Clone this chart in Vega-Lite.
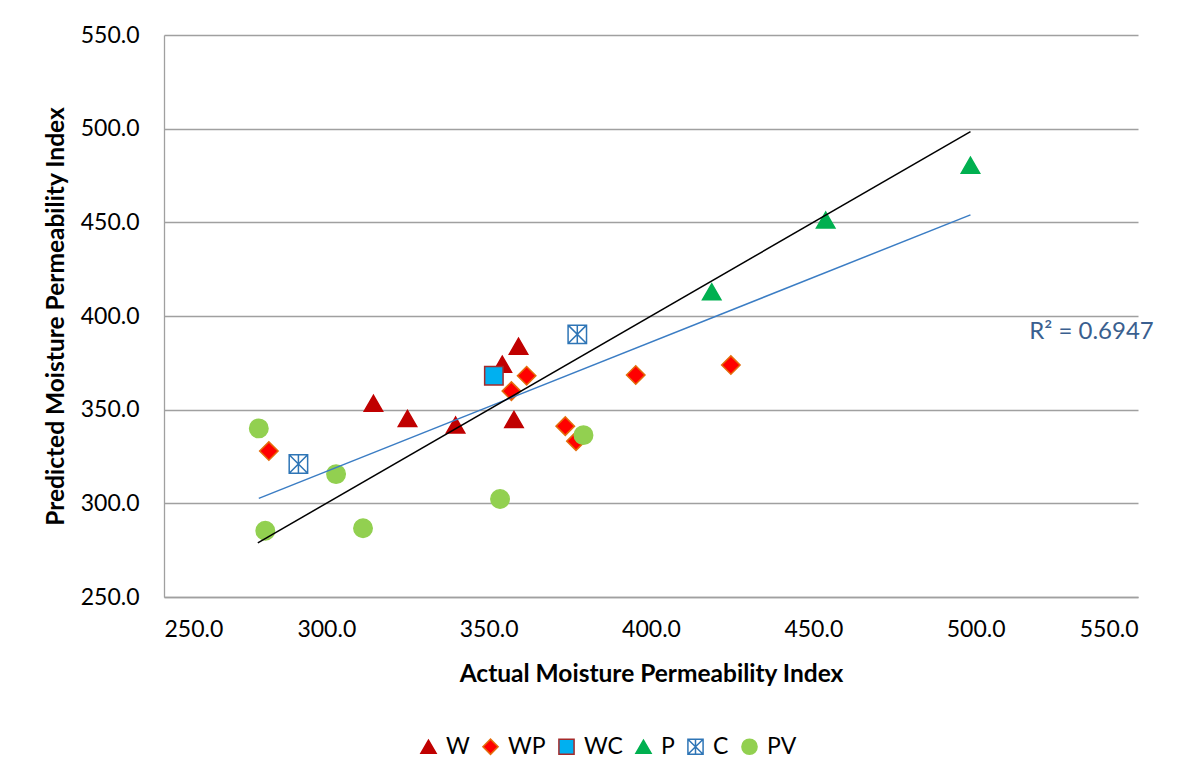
{
  "$schema": "https://vega.github.io/schema/vega-lite/v6.json",
  "autosize": "none",
  "width": 974,
  "height": 562,
  "padding": {"left": 164, "top": 35, "right": 60, "bottom": 183},
  "background": "white",
  "config": {
    "font": "Lato",
    "view": {"stroke": null},
    "axis": {
      "labelFont": "Lato",
      "labelFontSize": 23,
      "labelColor": "#000000",
      "titleFont": "Lato",
      "titleFontSize": 24.5,
      "titleFontWeight": "bold",
      "titleColor": "#000000",
      "domainColor": "#A0A0A0",
      "domainWidth": 1.3,
      "ticks": false,
      "gridColor": "#A0A0A0",
      "gridWidth": 1.3
    },
    "legend": {
      "labelFont": "Lato",
      "labelFontSize": 23,
      "labelColor": "#000000",
      "symbolSize": 230,
      "symbolStrokeWidth": 1.5
    }
  },
  "datasets": {
    "points": [
      {"series": "W", "actual": 314.5, "predicted": 353.4},
      {"series": "W", "actual": 325.0, "predicted": 345.3},
      {"series": "W", "actual": 339.8, "predicted": 341.8},
      {"series": "W", "actual": 357.8, "predicted": 344.8},
      {"series": "W", "actual": 359.2, "predicted": 383.9},
      {"series": "W", "actual": 354.2, "predicted": 374.3},
      {"series": "WP", "actual": 282.3, "predicted": 327.9},
      {"series": "WP", "actual": 357.0, "predicted": 359.9},
      {"series": "WP", "actual": 361.7, "predicted": 368.1},
      {"series": "WP", "actual": 373.6, "predicted": 341.2},
      {"series": "WP", "actual": 376.9, "predicted": 333.2},
      {"series": "WP", "actual": 395.3, "predicted": 368.5},
      {"series": "WP", "actual": 424.6, "predicted": 373.8},
      {"series": "WC", "actual": 351.6, "predicted": 368.1},
      {"series": "P", "actual": 418.7, "predicted": 412.9},
      {"series": "P", "actual": 453.8, "predicted": 451.2},
      {"series": "P", "actual": 498.4, "predicted": 480.5},
      {"series": "C", "actual": 291.4, "predicted": 321.0},
      {"series": "C", "actual": 377.3, "predicted": 390.2},
      {"series": "PV", "actual": 279.2, "predicted": 340.0},
      {"series": "PV", "actual": 281.2, "predicted": 285.4},
      {"series": "PV", "actual": 303.0, "predicted": 315.6},
      {"series": "PV", "actual": 311.3, "predicted": 286.7},
      {"series": "PV", "actual": 353.5, "predicted": 302.3},
      {"series": "PV", "actual": 379.2, "predicted": 336.4}
    ],
    "oneToOne": [
      {"actual": 278.9, "predicted": 278.9},
      {"actual": 498.4, "predicted": 498.4}
    ],
    "labels": [
      {"actual": 516.5, "predicted": 391.5, "text": "R² = 0.6947"}
    ]
  },
  "encoding": {
    "x": {
      "field": "actual", "type": "quantitative",
      "scale": {"domain": [250, 550], "nice": false, "zero": false},
      "axis": {"values": [250, 300, 350, 400, 450, 500, 550], "format": ".1f", "grid": false, "labelPadding": 21, "titlePadding": 21, "title": "Actual Moisture Permeability Index"}
    },
    "y": {
      "field": "predicted", "type": "quantitative",
      "scale": {"domain": [250, 550], "nice": false, "zero": false},
      "axis": {"values": [250, 300, 350, 400, 450, 500, 550], "format": ".1f", "grid": true, "labelPadding": 25, "titlePadding": 12, "title": "Predicted Moisture Permeability Index"}
    }
  },
  "layer": [
    {
      "data": {"name": "points"},
      "mark": {"type": "point", "filled": true, "size": 340, "opacity": 1, "strokeWidth": 1.5},
      "encoding": {
        "shape": {
          "field": "series", "type": "nominal",
          "scale": {"domain": ["W", "WP", "WC", "P", "C", "PV"], "range": ["triangle-up", "diamond", "square", "triangle-up", "M-1,-1H1V1H-1Z M-1,-1L1,1 M1,-1L-1,1 M0,-1V1", "circle"]},
          "legend": {"title": null, "orient": "none", "direction": "horizontal", "legendX": 253, "legendY": 700, "columnPadding": 9, "labelOffset": 6}
        },
        "fill": {
          "field": "series", "type": "nominal",
          "scale": {"domain": ["W", "WP", "WC", "P", "C", "PV"], "range": ["#C00000", "#FF0000", "#00B0F0", "#00B050", "#FFFFFF", "#92D050"]},
          "legend": {"title": null, "orient": "none", "direction": "horizontal", "legendX": 253, "legendY": 700, "columnPadding": 9, "labelOffset": 6}
        },
        "stroke": {
          "field": "series", "type": "nominal",
          "scale": {"domain": ["W", "WP", "WC", "P", "C", "PV"], "range": ["#C00000", "#E46C0A", "#A52A2A", "#00B050", "#2E75B6", "#92D050"]},
          "legend": {"title": null, "orient": "none", "direction": "horizontal", "legendX": 253, "legendY": 700, "columnPadding": 9, "labelOffset": 6}
        }
      }
    },
    {
      "data": {"name": "points"},
      "transform": [{"regression": "predicted", "on": "actual"}],
      "mark": {"type": "line", "color": "#3B7DC4", "strokeWidth": 1.5},
      "encoding": {}
    },
    {
      "data": {"name": "oneToOne"},
      "mark": {"type": "line", "color": "#000000", "strokeWidth": 1.5},
      "encoding": {}
    },
    {
      "data": {"name": "labels"},
      "mark": {"type": "text", "align": "left", "baseline": "middle", "fontSize": 24, "color": "#3A5F8F", "font": "Lato"},
      "encoding": {"text": {"field": "text"}}
    }
  ]
}
